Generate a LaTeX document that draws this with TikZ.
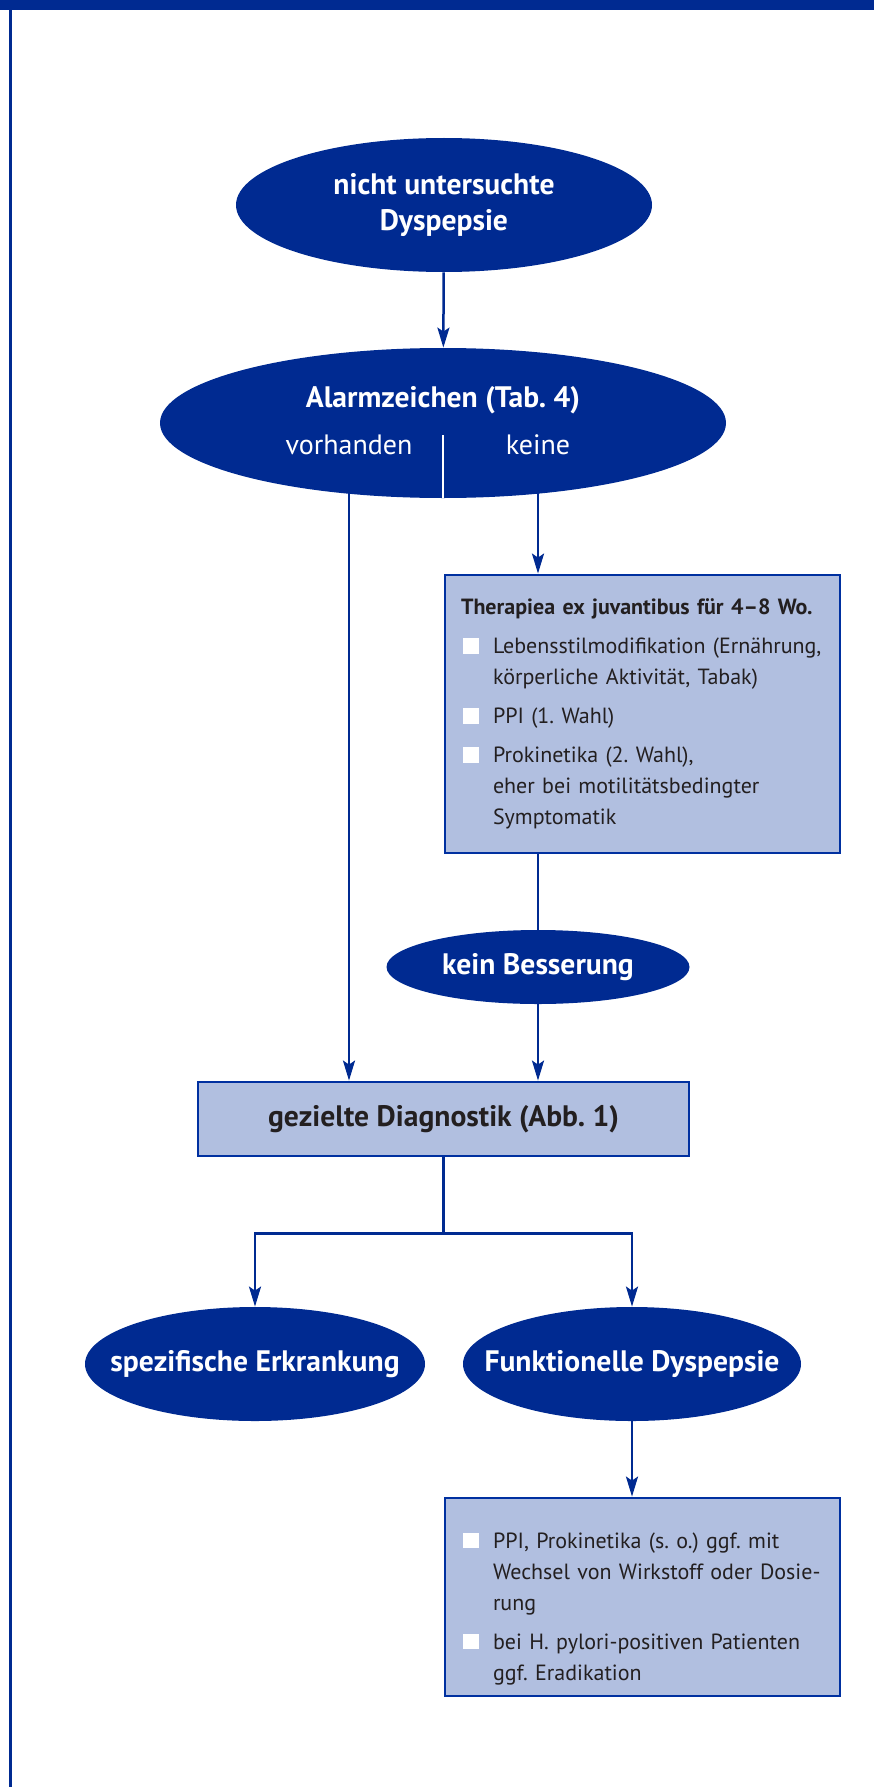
\documentclass[tikz,border=0pt]{standalone}
\usepackage{fontspec}
\setmainfont{PT Sans}
\frenchspacing
\usetikzlibrary{arrows.meta,shapes.geometric}

\definecolor{navy}{RGB}{0,42,145}
\definecolor{boxblue}{RGB}{177,191,224}
\definecolor{boxline}{RGB}{0,48,160}
\definecolor{ink}{RGB}{35,31,32}

\newcommand{\sqbullet}{\textcolor{white}{\rule{7.8pt}{7.8pt}}}
\newenvironment{sqlist}{\begin{list}{\sqbullet}{\setlength{\leftmargin}{16pt}\setlength{\labelwidth}{9pt}\setlength{\labelsep}{7pt}\setlength{\itemsep}{4pt}\setlength{\parsep}{0pt}\setlength{\topsep}{4pt}\setlength{\partopsep}{0pt}}}{\end{list}}

\tikzset{
  oval/.style={ellipse, fill=navy, inner sep=0pt},
  ovallab/.style={text=white, align=center, font=\bfseries\fontsize{14.8}{18}\selectfont},
  ovaltext/.style={text=white, font=\fontsize{14}{18}\selectfont},
  panel/.style={rectangle, draw=boxline, line width=1.4pt, fill=boxblue, text=ink},
  infobox/.style={panel, font=\fontsize{11}{15.5}\selectfont, inner xsep=8pt,
    inner ysep=0pt, text width=181.5pt, align=left},
  link/.style={draw=navy, line width=1.25pt},
  arrow/.style={link, -{Stealth[length=10pt,width=6pt,inset=2pt]}},
}

\begin{document}
\begin{tikzpicture}[x=0.5pt,y=-0.5pt]
  \useasboundingbox (0,0) rectangle (874,1787);
  % frame
  \fill[navy] (0,0) rectangle (874,10);
  \fill[navy] (9,0) rectangle (12,1787);

  % nodes
  \node[oval, minimum width=208pt, minimum height=67pt,
    label={[ovallab]center:nicht untersuchte\\Dyspepsie}] (dysp) at (444,205) {};
  \node[oval, minimum width=283pt, minimum height=75pt] (alarm) at (443,423) {};
  \node[ovallab] (alarmtxt) at (443,400) {Alarmzeichen (Tab.~4)};
  \node[ovaltext] (vorh) at (349,445) {vorhanden};
  \node[ovaltext] (keine) at (538,445) {keine};
  \draw[white, line width=1.3pt] (alarm.south) -- ++(0,-63);

  \node[infobox, minimum height=139pt] (thera) at (642.5,714) {%
    \textbf{Therapiea ex juvantibus für 4–8 Wo.}
    \begin{sqlist}
      \item Lebensstilmodifikation (Ernährung,\\ körperliche Aktivität, Tabak)
      \item PPI (1. Wahl)
      \item Prokinetika (2. Wahl),\\ eher bei motilitätsbedingter\\ Symptomatik
    \end{sqlist}};
  \node[oval, minimum width=151.5pt, minimum height=37pt,
    label={[ovallab]center:kein Besserung}] (besser) at (538,967) {};
  \node[panel, font=\bfseries\fontsize{14.8}{18}\selectfont, minimum width=245.5pt, minimum height=37pt] (diag) at (443.5,1119) {gezielte Diagnostik (Abb.~1)};
  \node[oval, minimum width=170pt, minimum height=57pt,
    label={[ovallab]center:spezifische Erkrankung}] (spez) at (255,1364) {};
  \node[oval, minimum width=169pt, minimum height=57pt,
    label={[ovallab]center:Funktionelle Dyspepsie}] (funk) at (632,1364) {};
  \node[infobox, minimum height=99pt] (ther2) at (642.5,1597) {%
    \begin{sqlist}
      \item PPI, Prokinetika (s.~o.) ggf. mit\\ Wechsel von Wirkstoff oder Dosie-\\ rung
      \item bei H.~pylori-positiven Patienten\\ ggf. Eradikation
    \end{sqlist}};

  % connectors
  \draw[arrow] (dysp) -- (alarm);
  \draw[arrow] (vorh.south) -- (vorh.south |- diag.north);
  \draw[arrow] (keine.south) -- (keine.south |- thera.north);
  \draw[link] (besser.north |- thera.south) -- (besser.north);
  \draw[arrow] (besser.south) -- (besser.south |- diag.north);
  \draw[link] (diag.south) -- ++(0,76) coordinate (fork);
  \draw[arrow] (fork) -| (spez.north);
  \draw[arrow] (fork) -| (funk.north);
  \draw[arrow] (funk.south) -- (funk.south |- ther2.north);
\end{tikzpicture}
\end{document}
